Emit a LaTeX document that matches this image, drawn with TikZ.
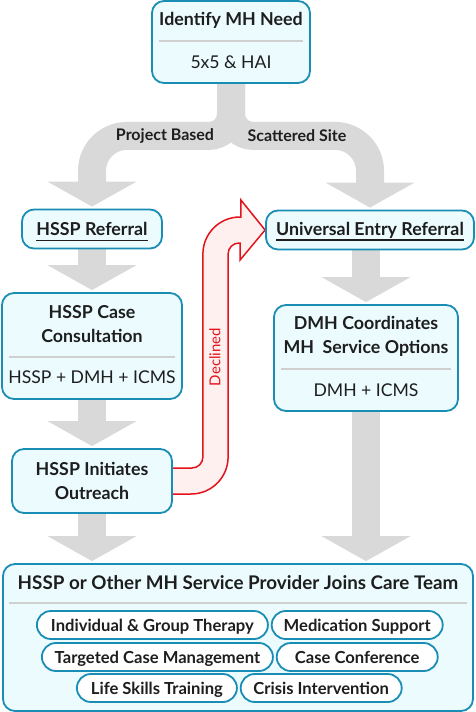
\documentclass[tikz,border=0pt]{standalone}
\usepackage{fontspec}
\setmainfont{Lato}
\usepackage{tikz}
\usetikzlibrary{arrows.meta,positioning,backgrounds}

\definecolor{boxline}{HTML}{1A8DB4}
\definecolor{boxfill}{HTML}{EBFBFE}
\definecolor{ink}{HTML}{1E1E1E}
\definecolor{flowgray}{HTML}{D9D9D9}
\definecolor{sepgray}{HTML}{D0D0D0}
\definecolor{declred}{HTML}{E3131B}
\definecolor{declfill}{HTML}{FFF0F0}

\begin{document}
\begin{tikzpicture}[x=1pt,y=-1pt,
    box/.style={draw=boxline,line width=1.8pt,fill=boxfill,rounded corners=12pt,inner sep=0pt},
    head/.style={inner sep=0pt,text=ink,align=center,font=\bfseries\fontsize{17.8}{24}\selectfont},
    sub/.style={inner sep=0pt,text=ink,font=\fontsize{17.6}{20}\selectfont},
    sep/.style={draw=sepgray,line width=1.5pt},
    uline/.style={draw=ink,line width=1.6pt},
    flow/.style={draw=flowgray,line width=28pt,-{Triangle[width=88pt,length=25pt]},shorten >=2pt},
    flowlabel/.style={inner sep=0pt,text=ink,font=\bfseries\fontsize{16}{18}\selectfont},
    declined/.style={draw=declred,line width=1.5pt,fill=declfill},
    chip/.style={draw=boxline,line width=1.8pt,fill=white,rounded corners=14pt,minimum height=28pt,
      inner sep=0pt,text height=12pt,text depth=0pt,text=ink,font=\bfseries\fontsize{16.6}{18}\selectfont}]
    \useasboundingbox (0,0) rectangle (475,712);

    % boxes
    \node[box,minimum width=158pt,minimum height=82pt] (need) at (231,42) {};
    \node[head] (needt) at (231,20) {Identify MH Need};
    \draw[sep] (159,41) -- (303,41);
    \node[sub] (needs) at (231,62) {5x5 \& HAI};

    \node[box,minimum width=140pt,minimum height=39pt] (ref) at (92,229) {};
    \node[head] (reft) at (ref) {HSSP Referral};
    \draw[uline] ([yshift=-5pt]reft.base west) -- ([yshift=-5pt]reft.base east);

    \node[box,minimum width=208pt,minimum height=39pt] (uer) at (370,230) {};
    \node[head] (uert) at (uer) {Universal Entry Referral};
    \draw[uline] ([yshift=-5pt]uert.base west) -- ([yshift=-5pt]uert.base east);

    \node[box,minimum width=180pt,minimum height=106pt] (case) at (92,346) {};
    \node[head] (caset) at (92,324) {HSSP Case\\Consultation};
    \draw[sep] (9,357) -- (175,357);
    \node[sub] (cases) at (92,377) {HSSP + DMH + ICMS};

    \node[box,minimum width=160pt,minimum height=64pt] (out) at (92,481) {};
    \node[head] (outt) at (out) {HSSP Initiates\\Outreach};

    \node[box,minimum width=184pt,minimum height=106pt] (dmh) at (366,358) {};
    \node[head] (dmht) at (366,336) {DMH Coordinates\\MH\ \ Service Options};
    \draw[sep] (281,369) -- (451,369);
    \node[sub] (dmhs) at (366,390) {DMH + ICMS};

    \node[box,minimum width=470pt,minimum height=147pt] (team) at (238,637.5) {};
    \node[head,font=\bfseries\fontsize{18.8}{24}\selectfont] (teamt) at (238,583) {HSSP or Other MH Service Provider Joins Care Team};
    \draw[sep] (9,603) -- (467,603);

    \node[chip,minimum width=231pt,anchor=west] (c1) at (36,625) {Individual \& Group Therapy};
    \node[chip,minimum width=171pt,right=2pt of c1] (c2) {Medication Support};
    \node[chip,minimum width=231pt,anchor=west] (c3) at (41,657) {Targeted Case Management};
    \node[chip,minimum width=161pt,right=2pt of c3] (c4) {Case Conference};
    \node[chip,minimum width=160pt,anchor=west] (c5) at (76,688) {Life Skills Training};
    \node[chip,minimum width=161pt,right=2pt of c5] (c6) {Crisis Intervention};

    % arrows
    \begin{pgfonlayer}{background}
      \draw[flow] (need.south) -- ++(0,30) arc[start angle=0,end angle=90,radius=22]
        -- ++(-82,0) arc[start angle=270,end angle=180,radius=35] -- (ref.north);
      \draw[flow] (need.south) -- ++(0,30) arc[start angle=180,end angle=90,radius=22]
        -- ++(82,0) arc[start angle=270,end angle=360,radius=35] -- (uer.north);
      \draw[flow] (ref.south) -- (case.north);
      \draw[flow] (case.south) -- (out.north);
      \draw[flow] (out.south) -- (out.south |- team.north);
      \draw[flow] (uer.south -| dmh.north) -- (dmh.north);
      \draw[flow] (dmh.south) -- (dmh.south |- team.north);

      \draw[declined] (out.east) ++(-2,-13) -- ++(21,0) arc[start angle=90,end angle=0,radius=11]
        -- ++(0,-203) arc[start angle=180,end angle=270,radius=37] -- ++(1,0) -- ++(0,-17)
        -- (uer.west) -- ++(-25,30) -- ++(0,-17) -- ++(-1,0) arc[start angle=270,end angle=180,radius=11]
        -- ++(0,203) arc[start angle=0,end angle=90,radius=37] -- ++(-21,0) -- cycle;
    \end{pgfonlayer}

    \node[flowlabel] (projl) at (165,136) {Project Based};
    \node[flowlabel] (scatl) at (297,136) {Scattered Site};
    \node[text=declred,inner sep=0pt,rotate=90,font=\fontsize{15}{17}\selectfont] (decl) at (215,357) {Declined};
\end{tikzpicture}
\end{document}
